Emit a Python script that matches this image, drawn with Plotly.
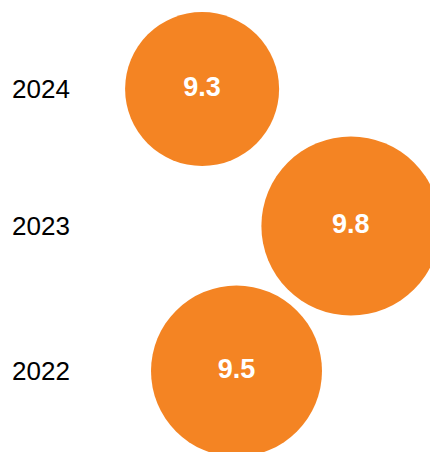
import plotly.graph_objects as go

years = ["2024", "2023", "2022"]
values = [9.3, 9.8, 9.5]
x_pos = [4.70, 8.16, 5.50]
row_pos = [8.03, 5.0, 1.79]
bubble_size = [154, 179, 171]

fig = go.Figure()
fig.add_trace(go.Scatter(
    x=x_pos,
    y=row_pos,
    mode="markers+text",
    text=[f"{v:.1f}" for v in values],
    textposition="middle center",
    textfont=dict(family="Liberation Sans, Arial, sans-serif", size=27, color="white", weight="bold"),
    marker=dict(size=bubble_size, sizemode="diameter", color="#F48423", line=dict(width=0), opacity=1),
    hoverinfo="skip",
    showlegend=False,
    cliponaxis=True,
))

fig.update_layout(
    width=430,
    height=452,
    margin=dict(l=0, r=0, t=0, b=0),
    paper_bgcolor="white",
    plot_bgcolor="white",
    xaxis=dict(range=[0, 10], visible=False, fixedrange=True),
    yaxis=dict(
        range=[0, 10],
        tickvals=row_pos,
        ticktext=years,
        ticks="",
        showgrid=False,
        zeroline=False,
        showline=False,
        ticklabelposition="inside",
        ticklabelstandoff=9,
        tickfont=dict(family="Liberation Sans, Arial, sans-serif", size=26, color="black"),
        fixedrange=True,
    ),
)

fig.write_html(
    "out.html",
    config={"displayModeBar": False},
    post_script="document.documentElement.style.overflow='hidden';document.body.style.margin='0';document.body.style.overflow='hidden';",
)
